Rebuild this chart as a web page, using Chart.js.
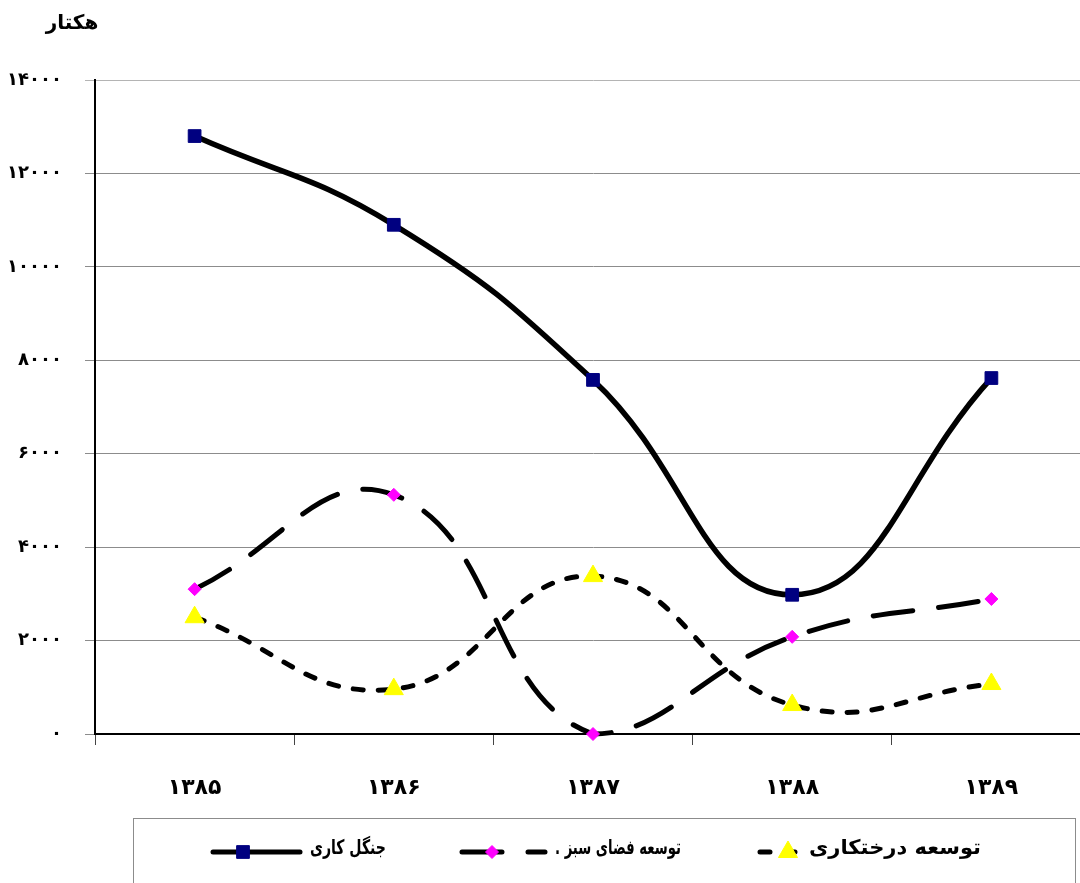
<!DOCTYPE html>
<html lang="fa">
<head>
<meta charset="utf-8">
<title>نمودار</title>
<script src="https://cdn.jsdelivr.net/npm/chart.js@4.4.1/dist/chart.umd.min.js"></script>
<style>
  html, body { margin: 0; padding: 0; background: #fff; overflow: hidden; }
  #wrap { width: 1103px; height: 883px; }
  #grafico { width: 1103px; height: 883px; display: block; }
</style>
</head>
<body>
<div id="wrap"><canvas id="grafico" width="1103" height="883"></canvas></div>
<script>
// داده‌ها
const years = ["1385", "1386", "1387", "1388", "1389"];
const jangalKari = [12800, 10900, 7580, 2980, 7620];
const fazaySabz = [3100, 5120, 0, 2080, 2890];
const derakhtKari = [2500, 960, 3380, 620, 1070];
const seriesNames = ["جنگل کاری", "توسعه فضای سبز .", "توسعه درختکاری"];
const yTicks = [0, 2000, 4000, 6000, 8000, 10000, 12000, 14000];
const yTitle = "هکتار";

const FONT = "'DejaVu Sans', sans-serif";

function faDigits(v) {
  return String(v).replace(/[0-9]/g, d => "۰۱۲۳۴۵۶۷۸۹"[d]);
}

// عنوان محور و راهنما روی خود بوم
const extraPlugin = {
  id: "extra",
  afterDraw(chart) {
    const ctx = chart.ctx;
    ctx.save();
    ctx.fillStyle = "#000";
    ctx.font = "bold 20px " + FONT;
    ctx.textAlign = "center";
    ctx.textBaseline = "middle";
    ctx.fillText(yTitle, 72, 24);

    // کادر راهنما
    ctx.strokeStyle = "#8c8c8c";
    ctx.lineWidth = 1;
    ctx.strokeRect(133.5, 818.5, 942, 80);

    const items = [
      { ds: 0, x1: 213, x2: 300, px: 243, textRight: 386, textW: 76 },
      { ds: 1, x1: 462, x2: 545, px: 492, textRight: 681, textW: 126 },
      { ds: 2, x1: 760, x2: 802, px: 788, textRight: 981, textW: 172 }
    ];
    const y = 852;
    items.forEach(it => {
      const ds = chart.data.datasets[it.ds];
      ctx.save();
      ctx.strokeStyle = "#000";
      ctx.lineWidth = 5;
      ctx.lineCap = "round";
      ctx.setLineDash(ds.borderDash || []);
      ctx.beginPath();
      ctx.moveTo(it.x1, y);
      ctx.lineTo(it.x2, y);
      ctx.stroke();
      ctx.restore();

      ctx.save();
      ctx.fillStyle = ds.pointBackgroundColor;
      ctx.strokeStyle = ds.pointBorderColor;
      ctx.lineWidth = 1;
      Chart.helpers.drawPoint(ctx, {
        pointStyle: ds.pointStyle,
        radius: ds.pointRadius,
        rotation: 0,
        borderWidth: 1
      }, it.px, y);
      ctx.restore();

      // متن راهنما، فشرده یا کشیده تا پهنای اصلی
      ctx.save();
      ctx.fillStyle = "#000";
      ctx.font = "bold 20px " + FONT;
      ctx.direction = "rtl";
      ctx.textAlign = "right";
      ctx.textBaseline = "middle";
      const w = ctx.measureText(seriesNames[it.ds]).width;
      const s = it.textW / w;
      ctx.translate(it.textRight, y - 3);
      ctx.scale(s, 1);
      ctx.fillText(seriesNames[it.ds], 0, 0);
      ctx.restore();
    });
    ctx.restore();
  }
};

const ctx = document.getElementById("grafico");

new Chart(ctx, {
  type: "line",
  data: {
    labels: years,
    datasets: [
      {
        label: seriesNames[0],
        data: jangalKari,
        borderColor: "#000",
        borderWidth: 5.5,
        pointStyle: "rect",
        pointRadius: 9,
        pointBackgroundColor: "#000080",
        pointBorderColor: "#000080",
        pointBorderWidth: 1,
        tension: 0.45,
        clip: false
      },
      {
        label: seriesNames[1],
        data: fazaySabz,
        borderColor: "#000",
        borderWidth: 5,
        borderDash: [40, 26],
        borderCapStyle: "round",
        pointStyle: "rectRot",
        pointRadius: 6.5,
        pointBackgroundColor: "#ff00ff",
        pointBorderColor: "#ff00ff",
        pointBorderWidth: 1,
        tension: 0.45,
        clip: false
      },
      {
        label: seriesNames[2],
        data: derakhtKari,
        borderColor: "#000",
        borderWidth: 5,
        borderDash: [10, 15],
        borderCapStyle: "round",
        pointStyle: "triangle",
        pointRadius: 11,
        pointBackgroundColor: "#ffff00",
        pointBorderColor: "#ffff00",
        pointBorderWidth: 1,
        tension: 0.45,
        clip: false
      }
    ]
  },
  options: {
    responsive: false,
    maintainAspectRatio: false,
    animation: false,
    layout: { padding: { top: 80, left: 0, right: 1, bottom: 0 } },
    plugins: {
      legend: { display: false },
      tooltip: { enabled: false }
    },
    scales: {
      x: {
        offset: true,
        afterFit(scale) { scale.height = 149; },
        grid: {
          offset: true,
          drawOnChartArea: false,
          drawTicks: true,
          tickLength: 11,
          color: "#444",
          lineWidth: 1
        },
        border: { color: "#000", width: 2 },
        ticks: {
          padding: 30,
          color: "#000",
          font: { family: FONT, size: 22, weight: "bold" },
          callback(v) { return faDigits(this.getLabelForValue(v)); }
        }
      },
      y: {
        min: 0,
        max: 14000,
        afterFit(scale) { scale.width = 95; },
        afterBuildTicks(scale) { scale.ticks = yTicks.map(v => ({ value: v })); },
        grid: {
          tickLength: 10,
          color(c) { return c.tick && c.tick.value === 14000 ? "#b4b4b4" : "#8c8c8c"; },
          lineWidth: 1
        },
        border: { color: "#000", width: 2 },
        ticks: {
          padding: 23,
          color: "#000",
          font: { family: FONT, size: 18, weight: "bold" },
          callback(v) { return faDigits(v); }
        }
      }
    }
  },
  plugins: [extraPlugin]
});
</script>
</body>
</html>
